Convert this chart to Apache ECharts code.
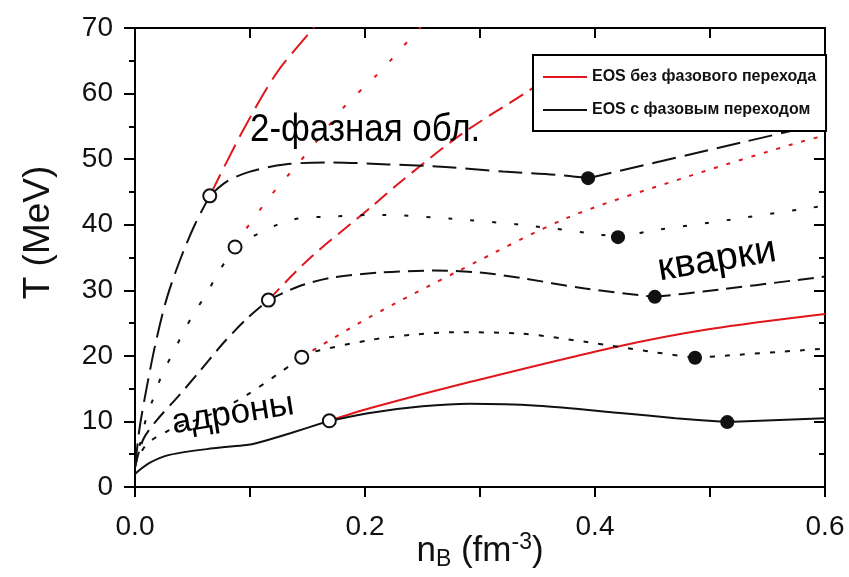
<!DOCTYPE html>
<html>
<head>
<meta charset="utf-8">
<script src="https://cdn.jsdelivr.net/npm/echarts@6/dist/echarts.min.js"></script>
<style>
    html, body { margin: 0; padding: 0; background: #fff; }
    #chart { width: 849px; height: 577px; }
</style>
</head>
<body>
<div id="chart"></div>
<script>
    // n_B (fm^-3) -> T (MeV)
    // EOS with phase transition: hadron branch / mixed (2-phase) branch / quark branch
    var hadron1 = [[0, 3], [0.004, 9], [0.010, 15], [0.018, 22], [0.028, 29], [0.040, 35], [0.052, 40], [0.065, 44.4]];
    var mixed1  = [[0.065, 44.4], [0.08, 46.6], [0.10, 48.1], [0.13, 49.2], [0.17, 49.5], [0.22, 49.2], [0.27, 48.8], [0.32, 48.1], [0.367, 47.6], [0.394, 47.1]];
    var quark1  = [[0.394, 47.1], [0.529, 52.6], [0.6, 55.5]];

    var hadron2 = [[0, 3], [0.010, 10.7], [0.017, 14], [0.024, 17.4], [0.033, 20.4], [0.042, 23.6], [0.052, 26.7], [0.063, 29.7], [0.072, 32.6], [0.087, 36.6]];
    var mixed2  = [[0.087, 36.6], [0.10, 38], [0.135, 40.7], [0.176, 41.3], [0.215, 41.5], [0.276, 40.9], [0.335, 40], [0.396, 38.7], [0.42, 38.1]];
    var quark2  = [[0.42, 38.1], [0.454, 39.2], [0.515, 40.7], [0.6, 42.9]];

    var hadron3 = [[0, 3], [0.007, 7.2], [0.019, 10.2], [0.037, 13.7], [0.057, 17.8], [0.077, 22], [0.098, 25.8], [0.116, 28.5]];
    var mixed3  = [[0.116, 28.5], [0.141, 30.5], [0.17, 31.9], [0.213, 32.7], [0.26, 33], [0.30, 32.7], [0.335, 31.9], [0.39, 30.3], [0.452, 29]];
    var quark3  = [[0.452, 29], [0.494, 29.8], [0.6, 32.1]];

    var hadron4 = [[0, 3.5], [0.010, 6.5], [0.028, 8.5], [0.05, 10], [0.071, 11.5], [0.097, 14], [0.124, 17.2], [0.145, 19.8]];
    var mixed4  = [[0.145, 19.8], [0.155, 20.6], [0.204, 22.4], [0.24, 23.2], [0.277, 23.6], [0.335, 23.4], [0.393, 22.1], [0.45, 20.6], [0.487, 19.7]];
    var quark4  = [[0.487, 19.7], [0.6, 21.1]];

    var hadron5 = [[0, 2], [0.013, 3.7], [0.03, 4.9], [0.068, 5.9], [0.097, 6.4], [0.106, 6.7], [0.135, 8.2], [0.169, 10.1]];
    var mixed5  = [[0.169, 10.1], [0.204, 11.3], [0.25, 12.3], [0.291, 12.7], [0.35, 12.4], [0.422, 11.3], [0.47, 10.5], [0.515, 9.9]];
    var quark5  = [[0.515, 9.9], [0.6, 10.5]];

    // EOS without phase transition (continuation of hadron branch)
    var noPT1 = [[0.065, 44.4], [0.094, 54.4], [0.123, 63.1], [0.155, 70], [0.16, 71.2]];
    var noPT2 = [[0.087, 36.6], [0.094, 38.7], [0.117, 44.2], [0.132, 47.3], [0.157, 52.5], [0.181, 57.8], [0.21, 62.8], [0.224, 65.4], [0.25, 70.5]];
    var noPT3 = [[0.116, 28.5], [0.152, 34.9], [0.204, 42.5], [0.23, 46.4], [0.283, 53.7], [0.343, 60.5], [0.39, 66]];
    var noPT4 = [[0.145, 19.8], [0.204, 25.9], [0.283, 33.1], [0.378, 41.2], [0.48, 47.3], [0.576, 52.5], [0.6, 53.6]];
    var noPT5 = [[0.169, 10.1], [0.204, 12.0], [0.291, 16.0], [0.419, 21.4], [0.5, 24.1], [0.6, 26.4]];

    var openPts   = [[0.065, 44.4], [0.087, 36.6], [0.116, 28.5], [0.145, 19.8], [0.169, 10.1]];
    var filledPts = [[0.394, 47.1], [0.42, 38.1], [0.452, 29], [0.487, 19.7], [0.515, 9.9]];

    var NAME_RED = 'EOS без фазового перехода';
    var NAME_BLACK = 'EOS с фазовым переходом';
    var RED = '#e0161c';
    var BLACK = '#111111';
    var FONT = '"Liberation Sans", Arial, sans-serif';

    var hadrons = [hadron1, hadron2, hadron3, hadron4, hadron5];
    var mixeds = [mixed1, mixed2, mixed3, mixed4, mixed5];
    var quarks = [quark1, quark2, quark3, quark4, quark5];
    var noPTs = [noPT1, noPT2, noPT3, noPT4, noPT5];
    // long dash, sparse dots, dash, fine dots, solid
    var dashBlack = [[24, 9], [4, 18], [16, 8], [5, 10], 'solid'];
    var dashRed   = [[24, 9], [4, 18], [16, 8], [4, 9], 'solid'];

    function lineSeries(name, data, color, dash) {
        return {
            name: name,
            type: 'line',
            data: data,
            smooth: 0.3,
            symbol: 'none',
            color: color,
            lineStyle: {color: color, width: 2, type: dash},
            silent: true
        };
    }

    var series = [];
    for (var i = 0; i < 5; i++) {
        series.push(lineSeries(NAME_RED, noPTs[i], RED, dashRed[i]));
    }
    for (var i = 0; i < 5; i++) {
        series.push(lineSeries(NAME_BLACK, hadrons[i], BLACK, dashBlack[i]));
        series.push(lineSeries(NAME_BLACK, mixeds[i], BLACK, dashBlack[i]));
        series.push(lineSeries(NAME_BLACK, quarks[i], BLACK, dashBlack[i]));
    }
    series.push({
        name: 'open', type: 'scatter', data: openPts, symbol: 'circle', symbolSize: 13, z: 3,
        itemStyle: {color: '#fff', borderColor: BLACK, borderWidth: 2, opacity: 1}
    });
    series.push({
        name: 'filled', type: 'scatter', data: filledPts, symbol: 'circle', symbolSize: 14, z: 3,
        itemStyle: {color: BLACK, opacity: 1}
    });

    var tickStyle = {color: '#000', width: 2};
    // frame axes (no labels) carrying the ticks
    var frameAxisX = function (pos, inside, sign) {
        return {
            type: 'value', min: 0, max: 0.6, interval: 0.1, position: pos,
            axisLine: {show: true, onZero: false, lineStyle: {color: '#000', width: 2}},
            axisTick: {show: true, inside: inside, length: 10 * sign, lineStyle: tickStyle},
            axisLabel: {show: false},
            splitLine: {show: false}
        };
    };
    var frameAxisY = function (pos, inside, sign) {
        return {
            type: 'value', min: 0, max: 70, interval: 10, position: pos,
            axisLine: {show: true, onZero: false, lineStyle: {color: '#000', width: 2}},
            axisTick: {show: true, inside: inside, length: 11 * sign, lineStyle: tickStyle},
            minorTick: {show: true, splitNumber: 2, length: 6 * sign, lineStyle: tickStyle},
            axisLabel: {show: false},
            splitLine: {show: false}
        };
    };

    var chart = echarts.init(document.getElementById('chart'));
    var option = {
        animation: false,
        backgroundColor: '#fff',
        grid: {left: 135, right: 24, top: 28, bottom: 90, containLabel: false, outerBoundsMode: 'none'},
        legend: {
            data: [{name: NAME_RED, icon: 'rect'}, {name: NAME_BLACK, icon: 'rect'}],
            orient: 'vertical',
            left: 533, top: 55,
            padding: [14, 10, 13, 10],
            itemGap: 17,
            itemWidth: 44, itemHeight: 2,
            backgroundColor: '#fff',
            borderColor: '#000', borderWidth: 2,
            selectedMode: false,
            textStyle: {
                fontFamily: FONT, fontWeight: 'bold', fontSize: 16, color: '#111'
            }
        },
        xAxis: [{
            type: 'value', min: 0, max: 0.6, interval: 0.1,
            name: 'n{sub|B} (fm{sup|-3})',
            nameLocation: 'middle', nameGap: 44, nameMoveOverlap: false,
            nameTextStyle: {
                fontFamily: FONT, fontSize: 35, color: '#111', lineHeight: 40,
                rich: {
                    sub: {fontFamily: FONT, fontSize: 23, lineHeight: 23, verticalAlign: 'bottom', color: '#111'},
                    sup: {fontFamily: FONT, fontSize: 23, lineHeight: 23, verticalAlign: 'top', color: '#111'}
                }
            },
            axisLine: {onZero: false, lineStyle: {color: '#000', width: 2}},
            axisTick: {show: false},
            axisLabel: {
                fontFamily: FONT, fontSize: 28, color: '#111', margin: 26,
                formatter: function (v) {
                    return Math.round(v * 10) % 2 === 0 ? v.toFixed(1) : '';
                }
            },
            splitLine: {show: false}
        }, frameAxisX('top', true, 1), frameAxisX('bottom', false, 1)],
        yAxis: [{
            type: 'value', min: 0, max: 70, interval: 10,
            name: 'T (MeV)',
            nameLocation: 'middle', nameGap: 78, nameMoveOverlap: false,
            nameTextStyle: {fontFamily: FONT, fontSize: 37, color: '#111', padding: [0, 0, 0, 50]},
            axisLine: {show: true, onZero: false, lineStyle: {color: '#000', width: 2}},
            axisTick: {show: false},
            axisLabel: {fontFamily: FONT, fontSize: 28, color: '#111', margin: 22},
            splitLine: {show: false}
        }, frameAxisY('right', true, 1), frameAxisY('left', true, -1)],
        graphic: [{
            type: 'text', x: 250, y: 131, scaleX: 0.92, z: 10,
            style: {text: '2-фазная обл.', fontFamily: FONT, fontSize: 38, fill: '#000',
                    align: 'left', verticalAlign: 'middle', textAlign: 'left', textVerticalAlign: 'middle'}
        }, {
            type: 'text', x: 717, y: 260, rotation: 0.165, z: 10,
            style: {text: 'кварки', fontFamily: FONT, fontSize: 39, fill: '#000',
                    align: 'center', verticalAlign: 'middle', textAlign: 'center', textVerticalAlign: 'middle'}
        }, {
            type: 'text', x: 233, y: 414, rotation: 0.157, z: 10,
            style: {text: 'адроны', fontFamily: FONT, fontSize: 35, fill: '#000',
                    align: 'center', verticalAlign: 'middle', textAlign: 'center', textVerticalAlign: 'middle'}
        }],
        series: series
    };
    chart.setOption(option);
</script>
</body>
</html>
